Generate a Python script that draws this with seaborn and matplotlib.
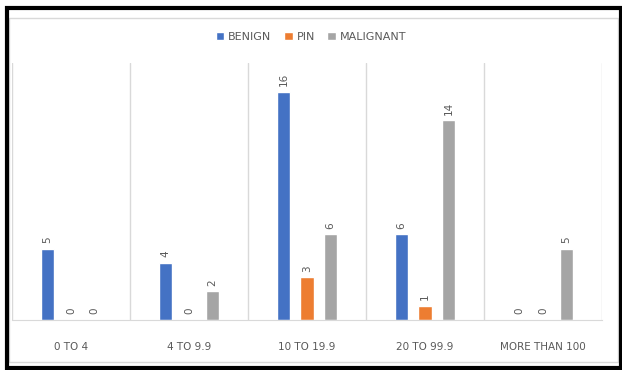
import numpy as np
import pandas as pd
import matplotlib
matplotlib.use("Agg")
import matplotlib.pyplot as plt
import seaborn as sns
from matplotlib.patches import Rectangle

# data
ranges = ["0 TO 4", "4 TO 9.9", "10 TO 19.9", "20 TO 99.9", "MORE THAN 100"]
benign = [5, 4, 16, 6, 0]
pin = [0, 0, 3, 1, 0]
malignant = [0, 2, 6, 14, 5]
series = ["BENIGN", "PIN", "MALIGNANT"]
colors = ["#4472C4", "#ED7D31", "#A5A5A5"]

df = pd.DataFrame({
    "range": ranges * 3,
    "count": benign + pin + malignant,
    "type": [s for s in series for _ in ranges],
})

sns.set_style("white")
plt.rcParams["font.family"] = ["DejaVu Sans"]
txt = "#595959"
grid = "#D9D9D9"

fig = plt.figure(figsize=(6.22, 3.70), dpi=100)
ax = fig.add_axes([12 / 622, 1 - 320 / 370, 590 / 622, 257 / 370])

sns.barplot(data=df, x="range", y="count", hue="type", palette=colors,
            width=0.6, gap=0.42, ax=ax, legend=True, saturation=1)

for c in ax.containers:
    ax.bar_label(c, rotation=90, padding=4, fontsize=7.5, color=txt)

ax.set_ylim(0, 18)
ax.set_xlim(-0.5, 4.5)
for x in np.arange(-0.5, 5, 1):
    ax.axvline(x, color=grid, lw=1, zorder=0)
ax.set_yticks([])
ax.set_xlabel("")
ax.set_ylabel("")
for s in ["top", "left", "right"]:
    ax.spines[s].set_visible(False)
ax.spines["bottom"].set_color(grid)
ax.tick_params(axis="x", length=0, pad=16, labelsize=7.5, labelcolor=txt)

ax.legend(loc="center", bbox_to_anchor=(311 / 622, 1 - 37 / 370),
          bbox_transform=fig.transFigure, ncol=3, frameon=False,
          fontsize=8, handlelength=0.8, handleheight=0.8,
          handletextpad=0.35, columnspacing=1.1, labelcolor=txt)

# chart border + black frame
fig.patches.append(Rectangle((9 / 622, 1 - 362 / 370), 609 / 622, 344 / 370,
                             transform=fig.transFigure, fill=False,
                             ec=grid, lw=1))
fig.patches.append(Rectangle((6.5 / 622, 1 - 368 / 370), 614 / 622, 360 / 370,
                             transform=fig.transFigure, fill=False,
                             ec="black", lw=3))

fig.savefig("out.png", dpi=100)
